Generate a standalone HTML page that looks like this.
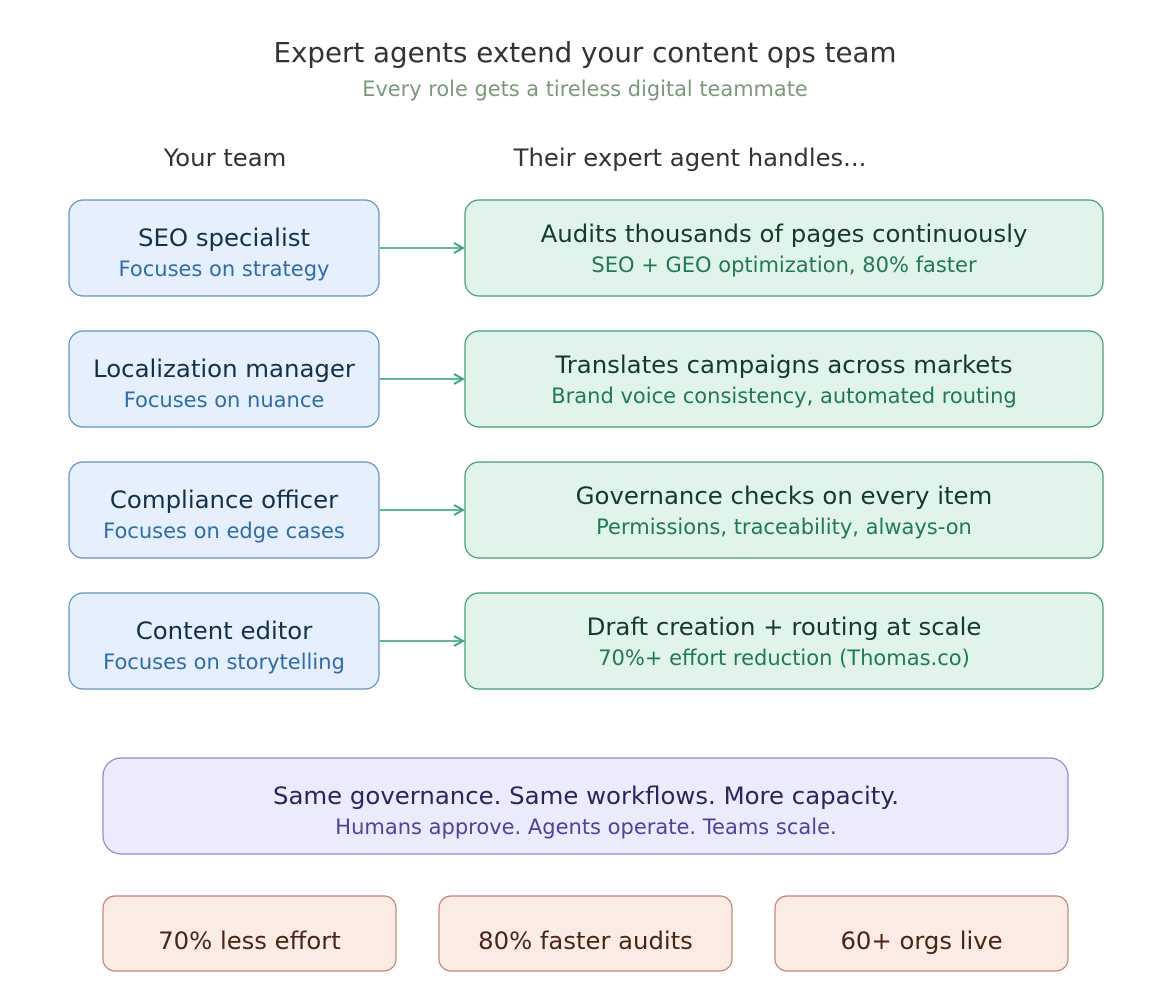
<!DOCTYPE html>
<html><head><meta charset="utf-8"><style>
html,body{margin:0;padding:0;background:#fff;}
svg{display:block;font-family:"DejaVu Sans","Liberation Sans",sans-serif;}
</style></head><body>
<svg width="1172" height="1000" viewBox="0 0 1172 1000" xmlns="http://www.w3.org/2000/svg">
<defs><marker id="a" markerWidth="12" markerHeight="12" refX="10" refY="6" orient="auto" markerUnits="userSpaceOnUse"><path d="M1,1 L10,6 L1,11" fill="none" stroke="#3aa57a" stroke-width="2"/></marker></defs>
<rect width="1172" height="1000" fill="#fff"/>
<text x="585" y="62" text-anchor="middle" font-size="27.7" fill="#333">Expert agents extend your content ops team</text>
<text x="585" y="96" text-anchor="middle" font-size="20.9" fill="#7a9a78">Every role gets a tireless digital teammate</text>
<text x="225" y="166" text-anchor="middle" font-size="24.3" fill="#333">Your team</text>
<text x="690" y="166" text-anchor="middle" font-size="24.3" fill="#333">Their expert agent handles...</text>
<g>
<rect x="69" y="200" width="310" height="96" rx="14" fill="#e5f0fc" stroke="#5b8cc6" stroke-width="1.2"/>
<text x="224" y="246" text-anchor="middle" font-size="24.4" fill="#13304f">SEO specialist</text>
<text x="224" y="276" text-anchor="middle" font-size="21" fill="#2e6bb0">Focuses on strategy</text>
<line x1="380" y1="248" x2="463" y2="248" stroke="#5cba94" stroke-width="2" marker-end="url(#a)"/>
<rect x="465" y="200" width="638" height="96" rx="14" fill="#e1f4ec" stroke="#3a9a6c" stroke-width="1.2"/>
<text x="784" y="242" text-anchor="middle" font-size="24.4" fill="#143a2b">Audits thousands of pages continuously</text>
<text x="784" y="272" text-anchor="middle" font-size="21" fill="#1f7a52">SEO + GEO optimization, 80% faster</text>
</g>
<g>
<rect x="69" y="331" width="310" height="96" rx="14" fill="#e5f0fc" stroke="#5b8cc6" stroke-width="1.2"/>
<text x="224" y="377" text-anchor="middle" font-size="24.4" fill="#13304f">Localization manager</text>
<text x="224" y="407" text-anchor="middle" font-size="21" fill="#2e6bb0">Focuses on nuance</text>
<line x1="380" y1="379" x2="463" y2="379" stroke="#5cba94" stroke-width="2" marker-end="url(#a)"/>
<rect x="465" y="331" width="638" height="96" rx="14" fill="#e1f4ec" stroke="#3a9a6c" stroke-width="1.2"/>
<text x="784" y="373" text-anchor="middle" font-size="24.4" fill="#143a2b">Translates campaigns across markets</text>
<text x="784" y="403" text-anchor="middle" font-size="21" fill="#1f7a52">Brand voice consistency, automated routing</text>
</g>
<g>
<rect x="69" y="462" width="310" height="96" rx="14" fill="#e5f0fc" stroke="#5b8cc6" stroke-width="1.2"/>
<text x="224" y="508" text-anchor="middle" font-size="24.4" fill="#13304f">Compliance officer</text>
<text x="224" y="538" text-anchor="middle" font-size="21" fill="#2e6bb0">Focuses on edge cases</text>
<line x1="380" y1="510" x2="463" y2="510" stroke="#5cba94" stroke-width="2" marker-end="url(#a)"/>
<rect x="465" y="462" width="638" height="96" rx="14" fill="#e1f4ec" stroke="#3a9a6c" stroke-width="1.2"/>
<text x="784" y="504" text-anchor="middle" font-size="24.4" fill="#143a2b">Governance checks on every item</text>
<text x="784" y="534" text-anchor="middle" font-size="21" fill="#1f7a52">Permissions, traceability, always-on</text>
</g>
<g>
<rect x="69" y="593" width="310" height="96" rx="14" fill="#e5f0fc" stroke="#5b8cc6" stroke-width="1.2"/>
<text x="224" y="639" text-anchor="middle" font-size="24.4" fill="#13304f">Content editor</text>
<text x="224" y="669" text-anchor="middle" font-size="21" fill="#2e6bb0">Focuses on storytelling</text>
<line x1="380" y1="641" x2="463" y2="641" stroke="#5cba94" stroke-width="2" marker-end="url(#a)"/>
<rect x="465" y="593" width="638" height="96" rx="14" fill="#e1f4ec" stroke="#3a9a6c" stroke-width="1.2"/>
<text x="784" y="635" text-anchor="middle" font-size="24.4" fill="#143a2b">Draft creation + routing at scale</text>
<text x="784" y="665" text-anchor="middle" font-size="21" fill="#1f7a52">70%+ effort reduction (Thomas.co)</text>
</g>
<rect x="103" y="758" width="965" height="96" rx="18" fill="#ecebfc" stroke="#8a84d4" stroke-width="1.2"/>
<text x="586" y="804" text-anchor="middle" font-size="24.4" fill="#2a2560">Same governance. Same workflows. More capacity.</text>
<text x="586" y="834" text-anchor="middle" font-size="21" fill="#4a42a8">Humans approve. Agents operate. Teams scale.</text>
<rect x="103" y="896" width="293" height="75" rx="12" fill="#fbebe5" stroke="#c08070" stroke-width="1.2"/>
<text x="249.5" y="949" text-anchor="middle" font-size="24.3" fill="#4a2414">70% less effort</text>
<rect x="439" y="896" width="293" height="75" rx="12" fill="#fbebe5" stroke="#c08070" stroke-width="1.2"/>
<text x="585.5" y="949" text-anchor="middle" font-size="24.3" fill="#4a2414">80% faster audits</text>
<rect x="775" y="896" width="293" height="75" rx="12" fill="#fbebe5" stroke="#c08070" stroke-width="1.2"/>
<text x="921.5" y="949" text-anchor="middle" font-size="24.3" fill="#4a2414">60+ orgs live</text>
</svg>
</body></html>
